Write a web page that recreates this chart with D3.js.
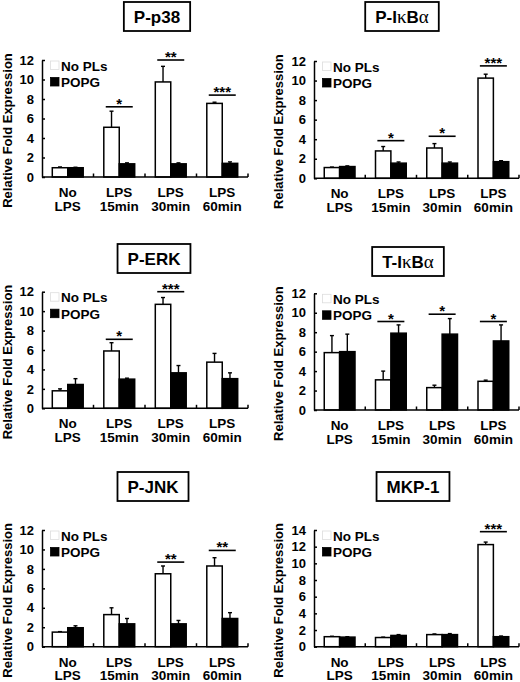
<!DOCTYPE html>
<html><head><meta charset="utf-8">
<script src="https://cdn.jsdelivr.net/npm/d3@7"></script>
<style>
html,body{margin:0;padding:0;background:#fff;}
svg text{font-family:"Liberation Sans",Arial,Helvetica,sans-serif;font-weight:bold;fill:#000;}
</style></head>
<body>
<svg id="chart" width="520" height="682"></svg>
<script>
// ---- data ----
const categories = [["No","LPS"],["LPS","15min"],["LPS","30min"],["LPS","60min"]];
const seriesNames = ["No PLs","POPG"];
const titles = ["P-p38","P-IκBα","P-ERK","T-IκBα","P-JNK","MKP-1"];
const yMax = [12,12,12,12,12,14];
const yLabel = "Relative Fold Expression";

const pp38NoPLs = [0.95, 5.1, 9.75, 7.55];
const pp38NoPLsErr = [0.08, 1.65, 1.6, 0.12];
const pp38POPG = [0.95, 1.35, 1.35, 1.4];
const pp38POPGErr = [0.05, 0.1, 0.1, 0.15];
const pp38Sig = [[1,7.2,"*"],[2,12.0,"**"],[3,8.4,"***"]];

const pikbNoPLs = [1.1, 2.8, 3.1, 10.25];
const pikbNoPLsErr = [0.05, 0.45, 0.45, 0.4];
const pikbPOPG = [1.2, 1.55, 1.55, 1.7];
const pikbPOPGErr = [0.07, 0.12, 0.12, 0.1];
const pikbSig = [[1,3.85,"*"],[2,4.3,"*"],[3,11.5,"***"]];

const perkNoPLs = [1.8, 5.9, 10.7, 4.75];
const perkNoPLsErr = [0.2, 0.85, 0.7, 0.9];
const perkPOPG = [2.45, 3.0, 3.65, 3.05];
const perkPOPGErr = [0.6, 0.1, 0.75, 0.6];
const perkSig = [[1,7.1,"*"],[2,12.0,"***"]];

const tikbNoPLs = [5.9, 3.1, 2.3, 2.95];
const tikbNoPLsErr = [1.75, 0.9, 0.25, 0.12];
const tikbPOPG = [6.0, 7.9, 7.8, 7.1];
const tikbPOPGErr = [1.8, 0.85, 1.6, 1.65];
const tikbSig = [[1,9.1,"*"],[2,9.85,"*"],[3,9.1,"*"]];

const pjnkNoPLs = [1.5, 3.3, 7.5, 8.3];
const pjnkNoPLsErr = [0.05, 0.7, 0.8, 0.85];
const pjnkPOPG = [1.95, 2.35, 2.35, 2.9];
const pjnkPOPGErr = [0.2, 0.55, 0.35, 0.6];
const pjnkSig = [[2,8.7,"**"],[3,9.9,"**"]];

const mkpNoPLs = [1.2, 1.1, 1.45, 12.25];
const mkpNoPLsErr = [0.05, 0.05, 0.08, 0.3];
const mkpPOPG = [1.15, 1.35, 1.45, 1.2];
const mkpPOPGErr = [0.05, 0.1, 0.12, 0.08];
const mkpSig = [[3,13.8,"***"]];

const panelValues = [
  [pp38NoPLs, pp38NoPLsErr, pp38POPG, pp38POPGErr, pp38Sig],
  [pikbNoPLs, pikbNoPLsErr, pikbPOPG, pikbPOPGErr, pikbSig],
  [perkNoPLs, perkNoPLsErr, perkPOPG, perkPOPGErr, perkSig],
  [tikbNoPLs, tikbNoPLsErr, tikbPOPG, tikbPOPGErr, tikbSig],
  [pjnkNoPLs, pjnkNoPLsErr, pjnkPOPG, pjnkPOPGErr, pjnkSig],
  [mkpNoPLs, mkpNoPLsErr, mkpPOPG, mkpPOPGErr, mkpSig]
];

// ---- layout ----
const layout = [
  {x0:42, x1:248, zero:177, top:60, tx:157, ty:2, lx:11.5},
  {x0:314, x1:519, zero:178.3, top:61, tx:402, ty:2, lx:283},
  {x0:42, x1:248, zero:408.3, top:291.7, tx:154, ty:244, lx:11.5},
  {x0:314, x1:519, zero:410, top:293.3, tx:408, ty:247, lx:283},
  {x0:42, x1:248, zero:646.7, top:530, tx:153, ty:472, lx:11.5},
  {x0:314, x1:519, zero:646.7, top:530, tx:413, ty:472, lx:283}
];

const svg = d3.select("#chart");

function titleText(sel, t){
  const parts = t.split(/([κα])/);
  parts.forEach(p=>{
    if(!p) return;
    const ts = sel.append("tspan").text(p);
    if(p==="κ"||p==="α") ts.style("font-family","'Liberation Serif','Times New Roman',serif").style("font-weight","normal").style("font-size","19px");
  });
}

titles.forEach((t,i)=>{
  const L = layout[i];
  const [wv, we, bv, be, sig] = panelValues[i];
  const g = svg.append("g");

  const x = d3.scaleBand().domain(d3.range(categories.length)).range([L.x0, L.x1]).padding(0);
  const bw = x.bandwidth();
  const xs = d3.scaleBand().domain(seriesNames).range([bw*0.2, bw*0.8]).padding(0);
  const y = d3.scaleLinear().domain([0, yMax[i]]).range([L.zero, L.top]);

  // title box
  const tt = g.append("text").attr("x", L.tx).attr("y", L.ty+21).attr("text-anchor","middle")
     .style("font-size","17px");
  titleText(tt, t);
  const tw = tt.node().getComputedTextLength();
  g.insert("rect","text").attr("x", L.tx - tw/2 - 10).attr("y", L.ty).attr("width", tw+20).attr("height", 29)
     .attr("fill","#fff").attr("stroke","#000").attr("stroke-width",1.8);

  // y axis
  const ticks = d3.range(0, yMax[i]+0.1, 2);
  const ya = g.append("g").attr("transform",`translate(${L.x0},0)`)
     .call(d3.axisLeft(y).tickValues(ticks).tickSizeInner(-3).tickSizeOuter(0).tickPadding(8).tickFormat(d3.format("d")));
  ya.selectAll("path,line").attr("stroke","#000").attr("stroke-width",1.5);
  ya.selectAll("text").style("font-size","13px").style("font-family","'Liberation Sans',Arial,sans-serif").style("font-weight","bold");

  // y label
  g.append("text").attr("transform",`translate(${L.lx},${(L.zero+L.top)/2+12}) rotate(-90)`)
     .attr("text-anchor","middle").style("font-size","13px").text(yLabel);

  // bars
  const series = [{name:seriesNames[0], v:wv, e:we, fill:"#fff"},{name:seriesNames[1], v:bv, e:be, fill:"#000"}];
  series.forEach(s=>{
    s.v.forEach((v,k)=>{
      const bx = x(k) + xs(s.name);
      const w = xs.bandwidth();
      const cx = bx + w/2;
      g.append("line").attr("x1",cx).attr("x2",cx).attr("y1",y(v)).attr("y2",y(v+s.e[k]))
        .attr("stroke","#000").attr("stroke-width",1.4);
      g.append("line").attr("x1",cx-2).attr("x2",cx+2).attr("y1",y(v+s.e[k])).attr("y2",y(v+s.e[k]))
        .attr("stroke","#000").attr("stroke-width",1.4);
      g.append("rect").attr("x",bx).attr("y",y(v)).attr("width",w).attr("height",y(0)-y(v))
        .attr("fill",s.fill).attr("stroke","#000").attr("stroke-width",1.5);
    });
  });

  // x axis
  g.append("line").attr("x1",L.x0).attr("x2",L.x1).attr("y1",y(0)).attr("y2",y(0))
    .attr("stroke","#000").attr("stroke-width",1.6);
  const bounds = categories.map((c,k)=>x(k)).slice(1).concat([L.x1]);
  bounds.forEach(bx=>{
    g.append("line").attr("x1",bx).attr("x2",bx).attr("y1",y(0)).attr("y2",y(0)-3.5)
      .attr("stroke","#000").attr("stroke-width",1.5);
  });
  categories.forEach((c,k)=>{
    const t = g.append("text").attr("text-anchor","middle").style("font-size","13.5px");
    c.forEach((line,li)=>{
      t.append("tspan").attr("x", x(k)+bw/2).attr("y", y(0)+20+li*13.5).text(line);
    });
  });

  // significance brackets
  sig.forEach(([k, yv, stars])=>{
    const cx = x(k)+bw/2;
    g.append("line").attr("x1",cx-13.5).attr("x2",cx+13.5).attr("y1",y(yv)).attr("y2",y(yv))
      .attr("stroke","#000").attr("stroke-width",1.6);
    g.append("text").attr("x",cx).attr("y",y(yv)+2).attr("text-anchor","middle")
      .style("font-size","15px").text(stars);
  });

  // legend
  series.forEach((s,si)=>{
    const ly = L.top + 1 + si*16.5;
    g.append("rect").attr("x",L.x0+8.5).attr("y",ly).attr("width",8.5).attr("height",8.5)
      .attr("fill",s.fill).attr("stroke", si===0 ? "#ddd" : "#000").attr("stroke-width",0.8);
    g.append("text").attr("x",L.x0+19).attr("y",ly+9.5).style("font-size","13.5px").text(s.name);
  });
});
</script>
</body></html>
